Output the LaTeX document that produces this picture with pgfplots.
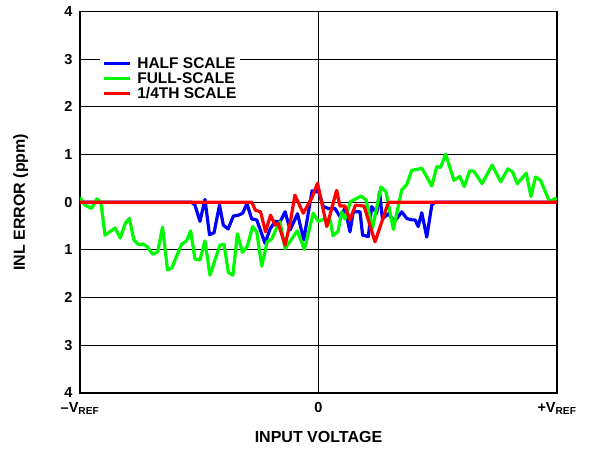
\documentclass[border=0pt]{standalone}
\usepackage{pgfplots}
\pgfplotsset{compat=1.18}
\usepackage{fontspec}
\setmainfont{Liberation Sans}
\definecolor{cblue}{RGB}{0,0,255}
\definecolor{cgreen}{RGB}{0,250,0}
\definecolor{cred}{RGB}{255,0,0}
\begin{document}
\begin{tikzpicture}[x=1pt,y=1pt]
\path (-80,-55) rectangle (510,393);
\begin{axis}[at={(0,0)}, anchor=south west, scale only axis,
  width=477pt, height=381.5pt,
  xmin=-100, xmax=100, ymin=-4, ymax=4,
  xtick={-100,0,100}, xticklabels={–V\textsubscript{REF},0,+V\textsubscript{REF}},
  ytick={-4,-3,-2,-1,0,1,2,3,4}, yticklabels={4,3,2,1,0,1,2,3,4},
  xmajorgrids, ymajorgrids, grid style={black, line width=0.9pt},
  axis line style={black, line width=1.6pt},
  major tick length=0pt,
  tick label style={font=\fontsize{14.5}{14.5}\selectfont\bfseries},
  xticklabel style={yshift=-6pt},
  yticklabel style={xshift=-4pt},
  xlabel={INPUT VOLTAGE}, ylabel={INL ERROR (ppm)},
  label style={font=\fontsize{16}{16}\selectfont\bfseries},
  xlabel style={at={(axis description cs:0.5,-0.115)}, anchor=center},
  ylabel style={at={(axis description cs:-0.124,0.5)}, anchor=center},
  legend style={at={(axis cs:-91.6,3.12)}, anchor=north west, draw=none, fill=white,
    font=\fontsize{15.5}{15.5}\selectfont\bfseries, row sep=-1.5pt, inner sep=2pt,
    cells={anchor=west}},
  legend image code/.code={\draw[#1, line width=3pt] (4pt,0pt) -- (30pt,0pt);
    \path (34pt,0pt);},
  every axis plot/.append style={line width=3.2pt, line join=round, no markers},
]
\addplot[cblue] coordinates {
(-100,0) (-53.2,0) (-51.8,-0.06) (-49.7,-0.40) (-47.6,0.06) (-45.7,-0.68) (-43.8,-0.64)
(-41.5,-0.06) (-39.9,-0.48) (-37.9,-0.56) (-35.7,-0.29) (-33.5,-0.27) (-31.8,-0.23)
(-30.0,-0.03) (-28.0,-0.35) (-25.9,-0.37) (-22.4,-0.86) (-20.3,-0.56) (-18.2,-0.40)
(-16.1,-0.41) (-14.0,-0.20) (-11.9,-0.58) (-8.8,-0.24) (-6.2,-0.79) (-2.7,0.24)
(-1.5,0.21) (-0.1,0.25) (2.0,-0.09) (4.1,-0.13) (6.9,-0.13) (9.0,-0.30) (11.1,-0.13)
(13.2,-0.62) (14.6,-0.20) (17.4,-0.20) (18.5,-0.69) (20.9,-0.72) (22.3,-0.09)
(24.4,-0.23) (25.6,0.22) (26.8,-0.35) (29.3,-0.24) (31.7,-0.40) (32.9,-0.34)
(34.9,-0.20) (37.0,-0.34) (39.1,-0.37) (40.5,-0.37) (41.8,-0.51) (43.3,-0.22)
(45.4,-0.73) (47.5,-0.06) (48.8,0) (100,0)
};
\addlegendentry{HALF SCALE}
\addplot[cgreen] coordinates {
(-100,0.05) (-99.7,0.08) (-97.9,-0.06) (-95.1,-0.13) (-93.0,0.07) (-91.3,0.01) (-89.5,-0.69)
(-85.3,-0.54) (-83.1,-0.75) (-81.0,-0.44) (-79.3,-0.34) (-77.4,-0.79) (-75.6,-0.88)
(-73.4,-0.88) (-71.7,-0.94) (-69.5,-1.09) (-67.4,-1.04) (-65.4,-0.52) (-63.3,-1.42)
(-61.5,-1.38) (-59.4,-1.12) (-57.4,-0.88) (-55.3,-0.81) (-53.6,-0.60) (-51.8,-1.19)
(-49.7,-1.21) (-47.6,-0.81) (-45.5,-1.53) (-43.4,-1.21) (-41.3,-0.90) (-39.6,-0.88)
(-37.8,-1.47) (-35.9,-1.53) (-34.0,-0.66) (-31.9,-1.05) (-29.9,-0.93) (-27.6,-0.51)
(-25.9,-0.62) (-23.8,-1.34) (-21.5,-0.83) (-19.6,-0.77) (-17.8,-0.57) (-16.1,-0.41)
(-14.0,-0.97) (-8.9,-0.60) (-5.9,-0.99) (-2.2,-0.23) (-0.1,-0.40) (2.7,-0.35)
(4.8,-0.36) (6.1,-0.70) (8.2,-0.61) (9.7,-0.20) (11.1,-0.35) (13.4,0.01) (17.8,0.13)
(19.9,0.05) (22.6,-0.55) (26.2,0.32) (28.3,0.22) (31.4,-0.57) (34.9,0.26) (37.0,0.37)
(39.1,0.67) (41.2,0.69) (43.4,0.71) (47.5,0.34) (49.6,0.75) (51.2,0.73) (53.3,1.01)
(56.8,0.46) (59.2,0.54) (61.1,0.33) (63.4,0.66) (65.2,0.65) (68.6,0.39) (72.8,0.78)
(76.4,0.43) (79.4,0.70) (81.3,0.64) (83.4,0.39) (87.1,0.61) (89.1,0.12) (91.0,0.53)
(93.1,0.46) (96.9,0.01) (99.2,0.08) (100,0.05)
};
\addlegendentry{FULL-SCALE}
\addplot[cred] coordinates {
(-100,0) (-28.0,0) (-26.4,-0.17) (-24.3,-0.20) (-22.2,-0.62) (-20.1,-0.27) (-18.2,-0.48)
(-16.9,-0.44) (-14.0,-0.90) (-11.9,-0.44) (-9.9,0.15) (-6.4,-0.23) (-2.9,0.08)
(-0.4,0.40) (3.5,-0.51) (7.6,0.25) (9.0,-0.08) (11.1,-0.08) (13.2,-0.37) (15.5,-0.06)
(19.1,-0.08) (23.7,-0.83) (29.3,0) (100,0)
};
\addlegendentry{1/4TH SCALE}
\end{axis}
\end{tikzpicture}
\end{document}
